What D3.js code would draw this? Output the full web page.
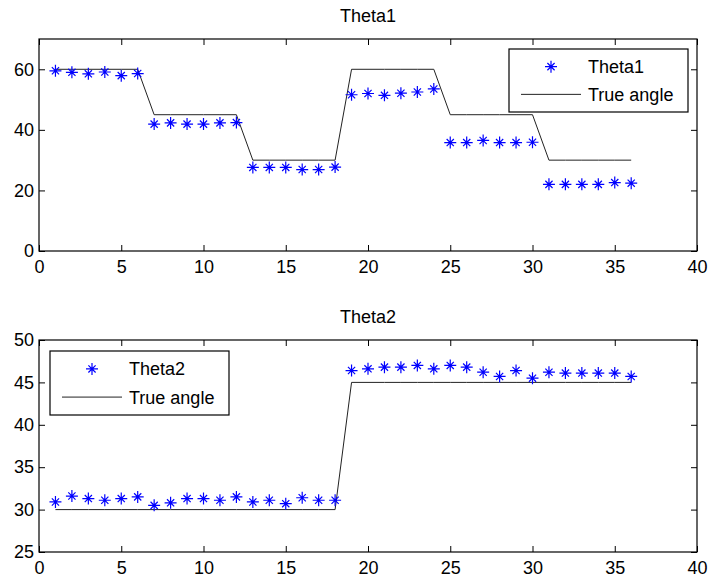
<!DOCTYPE html>
<html>
<head>
<meta charset="utf-8">
<script src="https://cdn.jsdelivr.net/npm/d3@7"></script>
<style>
  html, body { margin: 0; padding: 0; background: #fff; }
  svg text { font-family: "Liberation Sans", Arial, sans-serif; fill: #000; }
</style>
</head>
<body>
<div id="chart"></div>
<script>
// sample index on the x axis
const samples = d3.range(1, 37);

const theta1Est = [
  59.5, 59.0, 58.5, 59.1, 57.9, 58.6,
  41.9, 42.3, 41.9, 41.9, 42.3, 42.4,
  27.6, 27.6, 27.6, 26.9, 26.9, 27.7,
  51.6, 52.0, 51.4, 52.1, 52.5, 53.5,
  35.8, 35.8, 36.5, 35.8, 35.8, 35.9,
  22.0, 22.0, 22.0, 22.0, 22.6, 22.4
];
const theta1True = [
  60, 60, 60, 60, 60, 60,
  45, 45, 45, 45, 45, 45,
  30, 30, 30, 30, 30, 30,
  60, 60, 60, 60, 60, 60,
  45, 45, 45, 45, 45, 45,
  30, 30, 30, 30, 30, 30
];

const theta2Est = [
  30.9, 31.6, 31.3, 31.1, 31.3, 31.5,
  30.5, 30.8, 31.3, 31.3, 31.1, 31.5,
  30.9, 31.1, 30.7, 31.4, 31.1, 31.1,
  46.4, 46.6, 46.8, 46.8, 47.0, 46.6,
  47.0, 46.8, 46.2, 45.7, 46.4, 45.5,
  46.2, 46.1, 46.1, 46.1, 46.1, 45.7
];
const theta2True = [
  30, 30, 30, 30, 30, 30, 30, 30, 30, 30, 30, 30, 30, 30, 30, 30, 30, 30,
  45, 45, 45, 45, 45, 45, 45, 45, 45, 45, 45, 45, 45, 45, 45, 45, 45, 45
];

const xTicks = [0, 5, 10, 15, 20, 25, 30, 35, 40];
const theta1Ticks = [0, 20, 40, 60];
const theta2Ticks = [25, 30, 35, 40, 45, 50];

const width = 710, height = 586;
const fontSize = 18;

const svg = d3.select("#chart").append("svg")
  .attr("width", width)
  .attr("height", height);

// matlab-style '*' marker: a plus with a shorter cross on top
function starPath(r) {
  const d = r * 0.6;
  return `M${-r},0H${r}M0,${-r}V${r}M${-d},${-d}L${d},${d}M${-d},${d}L${d},${-d}`;
}

function drawPanel(opts) {
  const { top, bottom, left, right, yDomain, yTicks, est, truth, title, legend } = opts;

  const x = d3.scaleLinear().domain([0, 40]).range([left, right]);
  const y = d3.scaleLinear().domain(yDomain).range([bottom, top]);
  const g = svg.append("g");

  g.append("text")
    .attr("x", (left + right) / 2)
    .attr("y", top - 17)
    .attr("text-anchor", "middle")
    .style("font-size", fontSize + "px")
    .text(title);

  // ticks point inward on all four sides
  const tickLen = 6;
  const axisStyle = sel => {
    sel.select(".domain").remove();
    sel.selectAll("line").attr("stroke", "#000");
    sel.selectAll("text").style("font-size", fontSize + "px")
      .style("font-family", '"Liberation Sans", Arial, sans-serif');
  };

  g.append("g")
    .attr("transform", `translate(0,${bottom})`)
    .call(d3.axisBottom(x).tickValues(xTicks).tickSize(-tickLen).tickPadding(9).tickFormat(d3.format("d")))
    .call(axisStyle);
  g.append("g")
    .attr("transform", `translate(0,${top})`)
    .call(d3.axisTop(x).tickValues(xTicks).tickSize(-tickLen).tickFormat(""))
    .call(axisStyle);
  g.append("g")
    .attr("transform", `translate(${left},0)`)
    .call(d3.axisLeft(y).tickValues(yTicks).tickSize(-tickLen).tickPadding(5).tickFormat(d3.format("d")))
    .call(axisStyle);
  g.append("g")
    .attr("transform", `translate(${right},0)`)
    .call(d3.axisRight(y).tickValues(yTicks).tickSize(-tickLen).tickFormat(""))
    .call(axisStyle);

  g.append("rect")
    .attr("x", left).attr("y", top)
    .attr("width", right - left).attr("height", bottom - top)
    .attr("fill", "none").attr("stroke", "#000").attr("stroke-width", 1.2);

  const line = d3.line().x((d, i) => x(samples[i])).y(d => y(d));
  g.append("path")
    .datum(truth)
    .attr("d", line)
    .attr("fill", "none")
    .attr("stroke", "#222")
    .attr("stroke-width", 1);

  g.append("g").selectAll("path")
    .data(est)
    .join("path")
    .attr("transform", (d, i) => `translate(${x(samples[i])},${y(d)})`)
    .attr("d", starPath(6))
    .attr("fill", "none")
    .attr("stroke", "#0000ff")
    .attr("stroke-width", 1.2);

  // legend box
  const lg = g.append("g");
  lg.append("rect")
    .attr("x", legend.x).attr("y", legend.y)
    .attr("width", legend.w).attr("height", legend.h)
    .attr("fill", "#fff").attr("stroke", "#000").attr("stroke-width", 1.2);
  const row1 = legend.y + legend.h * 0.28;
  const row2 = legend.y + legend.h * 0.72;
  const lx0 = legend.x + 12, lx1 = legend.x + 72, tx = legend.x + 79;
  lg.append("path")
    .attr("transform", `translate(${(lx0 + lx1) / 2},${row1})`)
    .attr("d", starPath(6))
    .attr("stroke", "#0000ff").attr("stroke-width", 1.2);
  lg.append("text").attr("x", tx).attr("y", row1).attr("dy", "0.36em")
    .style("font-size", fontSize + "px").text(title);
  lg.append("line")
    .attr("x1", lx0).attr("x2", lx1).attr("y1", row2).attr("y2", row2)
    .attr("stroke", "#222").attr("stroke-width", 1);
  lg.append("text").attr("x", tx).attr("y", row2).attr("dy", "0.36em")
    .style("font-size", fontSize + "px").text("True angle");
}

drawPanel({
  top: 39, bottom: 251, left: 39, right: 697,
  yDomain: [0, 70], yTicks: theta1Ticks,
  est: theta1Est, truth: theta1True, title: "Theta1",
  legend: { x: 509, y: 49, w: 179, h: 63 }
});

drawPanel({
  top: 340, bottom: 552, left: 39, right: 697,
  yDomain: [25, 50], yTicks: theta2Ticks,
  est: theta2Est, truth: theta2True, title: "Theta2",
  legend: { x: 50, y: 351, w: 179, h: 64 }
});
</script>
</body>
</html>
